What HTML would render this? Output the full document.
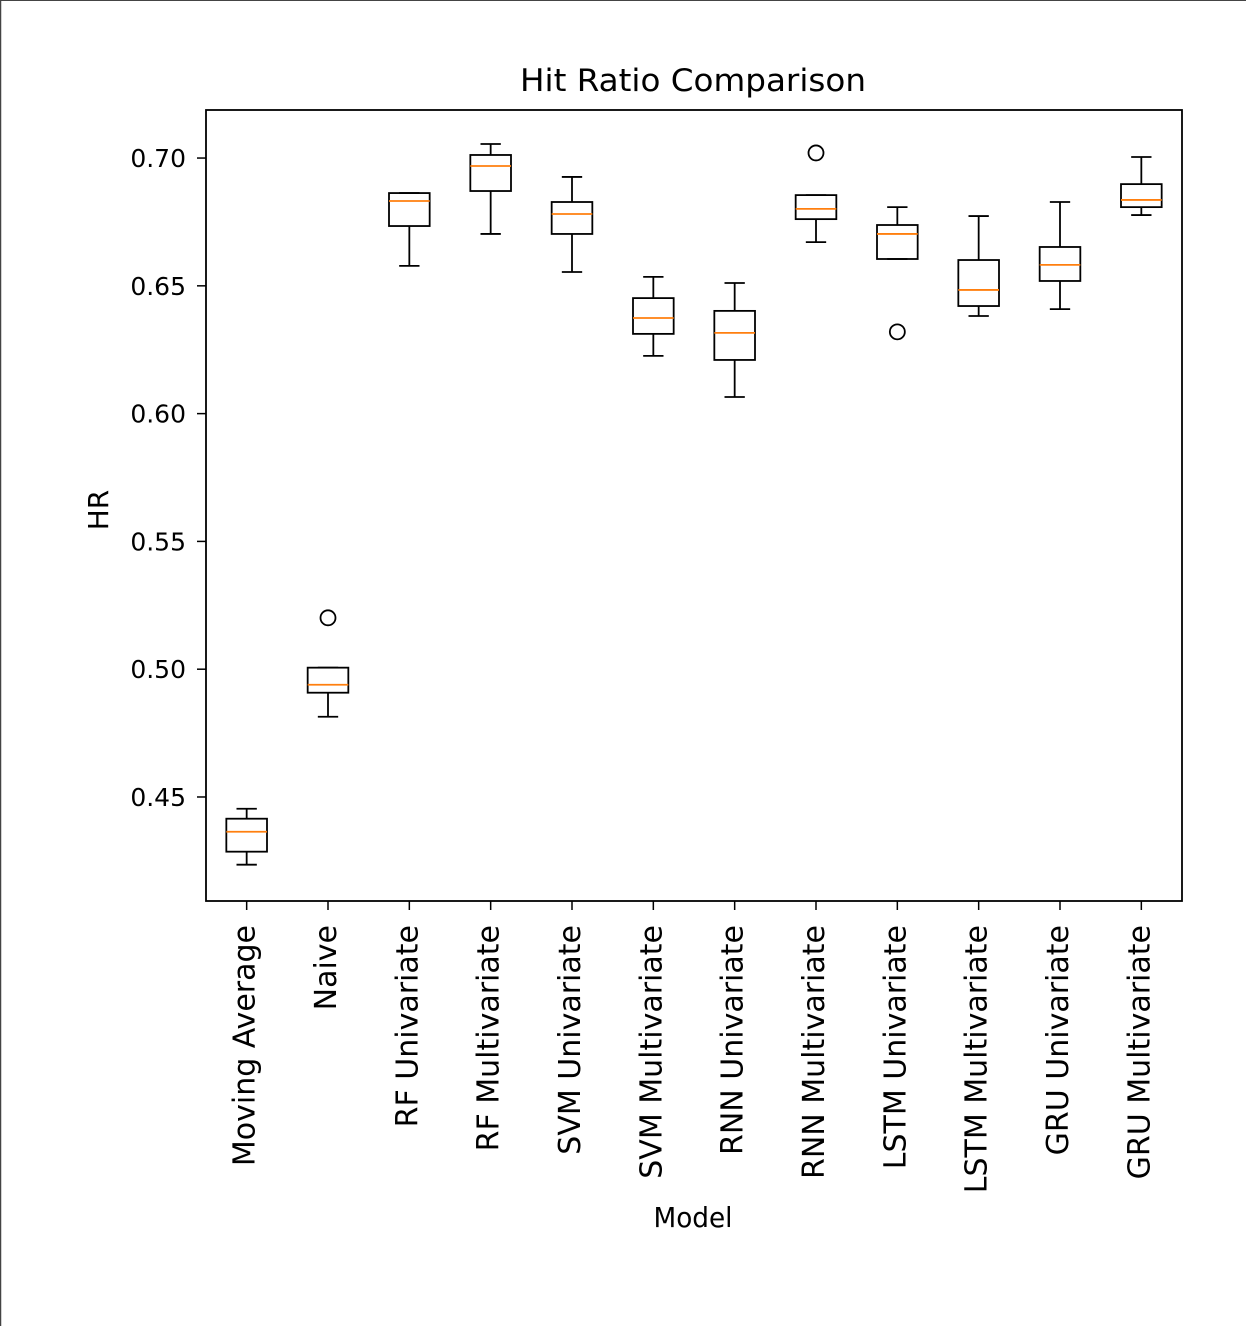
<!DOCTYPE html>
<html><head><meta charset="utf-8"><style>
html,body{margin:0;padding:0;background:#fff;}
svg{display:block;font-family:"DejaVu Sans","Liberation Sans",sans-serif;}
</style></head><body>
<svg id="chart" width="1246" height="1326" viewBox="0 0 1246 1326">
<rect x="0" y="0" width="1246" height="1326" fill="#fff"/>
<line x1="0.5" y1="0" x2="0.5" y2="1326" stroke="#444" stroke-width="1.5"/>
<line x1="0" y1="0.5" x2="1246" y2="0.5" stroke="#444" stroke-width="1"/>
<text x="693" y="91" font-size="31" text-anchor="middle" fill="#000" textLength="346" lengthAdjust="spacingAndGlyphs">Hit Ratio Comparison</text>
<g id="plot"></g>
<text x="693" y="1227" font-size="28" text-anchor="middle" fill="#000" textLength="79" lengthAdjust="spacingAndGlyphs">Model</text>
<text transform="translate(108,510) rotate(-90)" font-size="28" text-anchor="middle" fill="#000">HR</text>
</svg>
<script>
const categories = ["Moving Average","Naive","RF Univariate","RF Multivariate","SVM Univariate","SVM Multivariate","RNN Univariate","RNN Multivariate","LSTM Univariate","LSTM Multivariate","GRU Univariate","GRU Multivariate"];
const whiskerLow = [0.4235,0.4814,0.6578,0.6703,0.6554,0.6226,0.6065,0.6671,0.6605,0.6382,0.6409,0.6777];
const q1Values = [0.4286,0.4908,0.6734,0.6871,0.6703,0.6312,0.6210,0.6761,0.6605,0.6421,0.6519,0.6808];
const medianValues = [0.4364,0.4939,0.6832,0.6969,0.6781,0.6374,0.6316,0.6801,0.6703,0.6484,0.6582,0.6836];
const q3Values = [0.4415,0.5006,0.6863,0.7012,0.6828,0.6452,0.6402,0.6855,0.6738,0.6601,0.6652,0.6898];
const whiskerHigh = [0.4454,0.5006,0.6863,0.7055,0.6926,0.6535,0.6511,0.6855,0.6808,0.6773,0.6828,0.7004];
const outlierCats = [1,7,8];
const outlierValues = [0.5201,0.7020,0.6320];
const yTicks = [0.45,0.50,0.55,0.60,0.65,0.70];
const yTickLabels = ["0.45","0.50","0.55","0.60","0.65","0.70"];

const L=206,R=1182,T=110,B=901;
const yMin=0.4093,yMax=0.7188;
const y=v=>B-(v-yMin)/(yMax-yMin)*(B-T);
const step=(R-L)/categories.length;
const x=i=>L+(i+0.5)*step;
const NS="http://www.w3.org/2000/svg";
const g=document.getElementById('plot');
function mk(tag,attrs,name){const e=document.createElementNS(NS,tag);for(const k in attrs)e.setAttribute(k,attrs[k]);


g.appendChild(e);return e;}
yTicks.forEach((v,i)=>{
  mk('line',{x1:L-9,x2:L,y1:y(v),y2:y(v),stroke:'#000','stroke-width':1.5},'y-tick');
  const t=mk('text',{x:L-20,y:y(v)+9,'font-size':25,'text-anchor':'end',fill:'#000'},'y-tick-label');
  t.textContent=yTickLabels[i];
});
const bw=step*0.5;
categories.forEach((c,i)=>{
  const cx=x(i);
  mk('line',{x1:cx,x2:cx,y1:B,y2:B+9,stroke:'#000','stroke-width':1.5},'x-tick');
  const t=mk('text',{transform:`translate(${cx+8},${B+24}) rotate(-90)`,'font-size':30,'text-anchor':'end',fill:'#000'},'x-tick-label');
  t.textContent=c;
  mk('line',{x1:cx,x2:cx,y1:y(q3Values[i]),y2:y(whiskerHigh[i]),stroke:'#000','stroke-width':1.8},'upper-whisker');
  mk('line',{x1:cx,x2:cx,y1:y(q1Values[i]),y2:y(whiskerLow[i]),stroke:'#000','stroke-width':1.8},'lower-whisker');
  mk('line',{x1:cx-bw/4,x2:cx+bw/4,y1:y(whiskerHigh[i]),y2:y(whiskerHigh[i]),stroke:'#000','stroke-width':1.8},'upper-cap');
  mk('line',{x1:cx-bw/4,x2:cx+bw/4,y1:y(whiskerLow[i]),y2:y(whiskerLow[i]),stroke:'#000','stroke-width':1.8},'lower-cap');
  mk('rect',{x:cx-bw/2,y:y(q3Values[i]),width:bw,height:Math.max(0.5,y(q1Values[i])-y(q3Values[i])),fill:'none',stroke:'#000','stroke-width':1.8},'box');
  mk('line',{x1:cx-bw/2,x2:cx+bw/2,y1:y(medianValues[i]),y2:y(medianValues[i]),stroke:'#ff7f0e','stroke-width':1.8},'median-line');
});
outlierCats.forEach((ci,k)=>{
  mk('circle',{cx:x(ci),cy:y(outlierValues[k]),r:7.5,fill:'none',stroke:'#000','stroke-width':1.8},'outlier-point');
});
mk('rect',{x:L,y:T,width:R-L,height:B-T,fill:'none',stroke:'#000','stroke-width':1.8},'plot-frame');
</script>
</body></html>
